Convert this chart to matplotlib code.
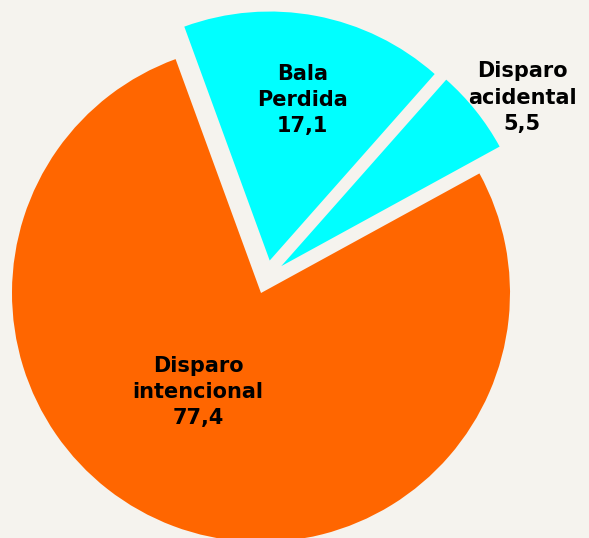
import matplotlib
matplotlib.use("Agg")
import numpy as np
import matplotlib.pyplot as plt

# data
labels = ["Disparo\nacidental", "Bala\nPerdida", "Disparo\nintencional"]
values = [5.5, 17.1, 77.4]
colors = ["#00FFFF", "#00FFFF", "#FF6600"]
explode = [0.135, 0.135, 0]
# the source pushes the small slice out a bit more upward than its mid-angle
explode_dir = [53, 75, None]
# where each label sits (data units, pie radius = 1)
label_pos = [(1.048, 0.785), (0.168, 0.775), (-0.253, -0.398)]

bg = "#F5F3EE"
fig = plt.figure(figsize=(5.89, 5.38), dpi=100, facecolor=bg)
ax = fig.add_axes([0, 0, 1, 1])
ax.set_facecolor(bg)

wedges, _ = ax.pie(values, colors=colors, startangle=28.7,
                   counterclock=True, radius=1, wedgeprops=dict(linewidth=0))

for w, e, d in zip(wedges, explode, explode_dir):
    if d is not None:
        a = np.deg2rad(d)
        w.set_center((e * np.cos(a), e * np.sin(a)))

for lab, v, (x, y) in zip(labels, values, label_pos):
    txt = lab + "\n" + f"{v:.1f}".replace(".", ",")
    ax.text(x, y, txt, ha="center", va="center", fontsize=15,
            fontweight="bold", linespacing=1.38, color="black")

# 249 px per unit radius, centre of pie at pixel (261, 293)
ax.set_xlim(-261 / 249, (589 - 261) / 249)
ax.set_ylim(-(538 - 293) / 249, 293 / 249)
ax.set_aspect("auto")
ax.axis("off")

fig.savefig("out.png", dpi=100, facecolor=bg)
